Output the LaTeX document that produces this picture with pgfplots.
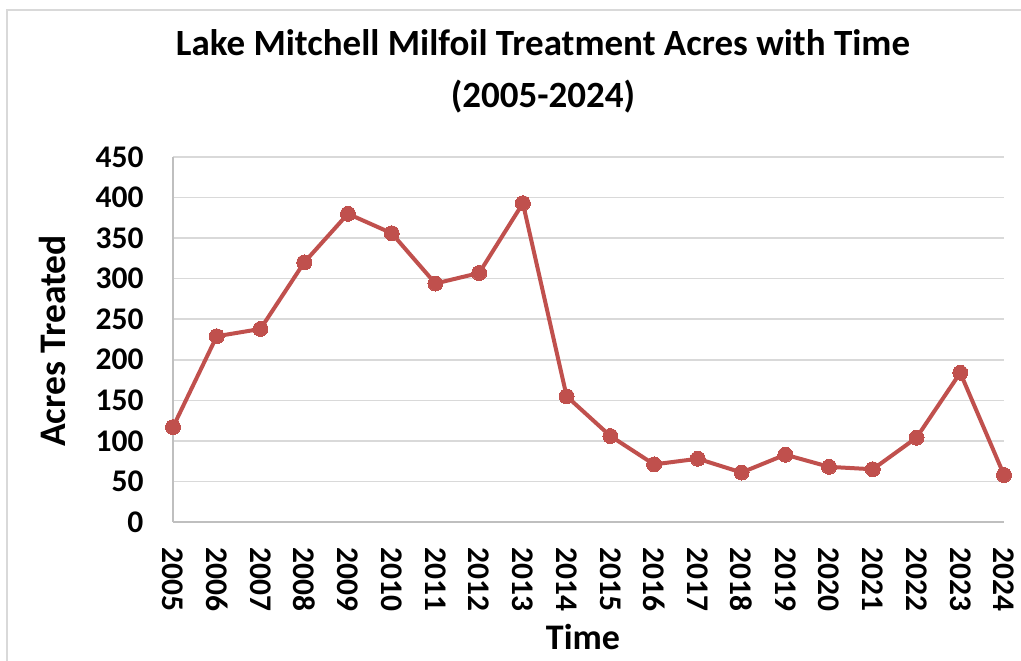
\documentclass[border=0pt]{standalone}
\usepackage{fontspec}
\setmainfont{Carlito}
\usepackage{pgfplots}
\pgfplotsset{compat=1.18}
\definecolor{series}{HTML}{C0504D}
\definecolor{gridgray}{HTML}{D9D9D9}
\definecolor{axisgray}{HTML}{BFBFBF}
\begin{document}
\begin{tikzpicture}[x=1pt,y=1pt]
\useasboundingbox (-173,-139) rectangle (848,522);
\draw[gridgray, line width=1.5pt] (-166,-139) -- (-166,512) -- (848,512);
\begin{axis}[at={(0,0)}, anchor=south west, scale only axis,
  width=831pt, height=365pt,
  xmin=2005, xmax=2024, ymin=0, ymax=450,
  xtick=data, ytick={0,50,...,450},
  ymajorgrids, major grid style={gridgray, line width=1.5pt},
  axis x line=bottom, axis y line=left,
  axis line style={axisgray, line width=1.5pt, -},
  major tick length=0pt,
  clip=false,
  /pgf/number format/1000 sep={},
  /pgf/number format/assume math mode=true,
  ticklabel style={font=\fontsize{31.5}{31.5}\selectfont\bfseries},
  xticklabel style={rotate=-90, anchor=west, xshift=22pt},
  yticklabel style={anchor=east, xshift=-26pt},
]
\addplot[series, line width=4pt, line join=round, mark=*, mark size=7.5pt,
  mark options={fill=series, draw=series, line width=0pt}] table {
x y
2005 117
2006 229
2007 238
2008 320
2009 380
2010 356
2011 294
2012 307
2013 393
2014 155
2015 106
2016 71
2017 78
2018 61
2019 83
2020 68
2021 65
2022 104
2023 184
2024 58
};
\end{axis}
\node[align=center, font=\fontsize{37}{52}\selectfont\bfseries] at (370,451)
  {Lake Mitchell Milfoil Treatment Acres with Time\\(2005-2024)};
\node[rotate=90, font=\fontsize{37.5}{37.5}\selectfont\bfseries] at (-121,181) {Acres Treated};
\node[font=\fontsize{36}{36}\selectfont\bfseries] at (410,-115) {Time};
\end{tikzpicture}
\end{document}
